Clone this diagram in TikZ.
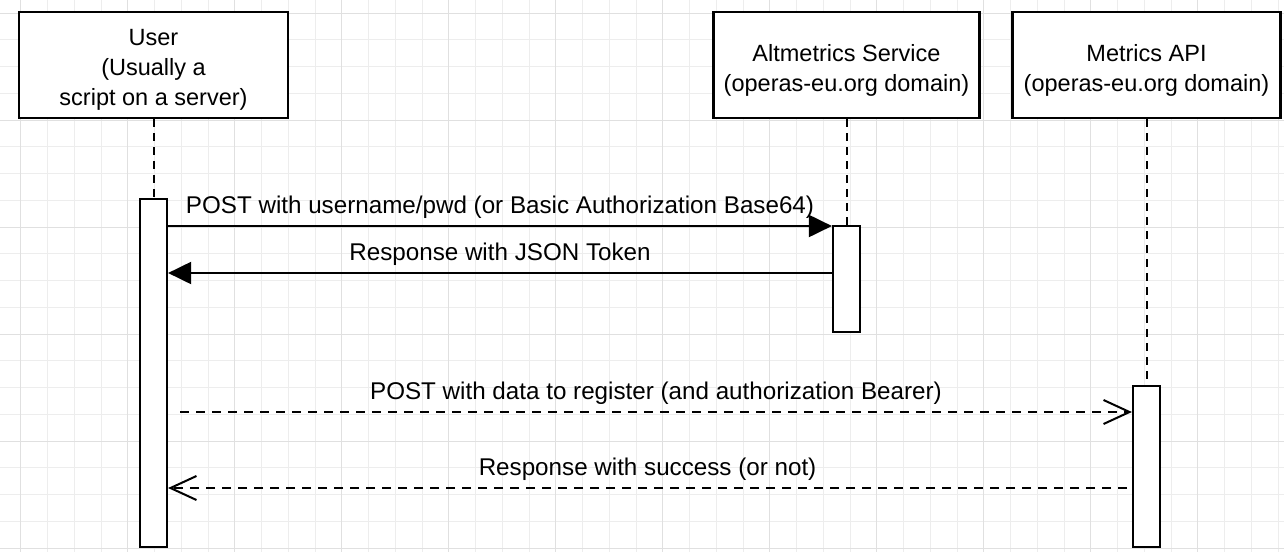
\documentclass[tikz,border=0pt]{standalone}
\usepackage{fontspec}
\setmainfont{Liberation Sans}
\usetikzlibrary{arrows.meta}

\tikzset{
  minorgrid/.style={draw=black!7, line width=0.9pt},
  majorgrid/.style={draw=black!12, line width=1pt},
  actor/.style={draw, line width=2.4pt, fill=white, inner sep=0pt, minimum height=106pt},
  actortext/.style={align=center, inner sep=0pt, font=\fontsize{23.5}{30}\selectfont},
  actbar/.style={draw, line width=2.2pt, fill=white, minimum width=27pt, inner sep=0pt},
  lifeline/.style={line width=2pt, dash pattern=on 8pt off 6pt},
  syncmsg/.style={line width=2pt, -{Triangle[length=23pt, width=22pt]}},
  replymsg/.style={line width=2pt, dash pattern=on 9pt off 7pt,
    -{Straight Barb[length=26pt, width=24pt, line width=2pt]}},
  msglabel/.style={font=\fontsize{24.2}{30}\selectfont, inner sep=0pt},
}

\begin{document}
\begin{tikzpicture}[x=1pt, y=-1pt]
  \useasboundingbox (0,0) rectangle (1284,552);
  \fill[white] (0,0) rectangle (1284,552);

  % background grid
  \foreach \i in {-1,...,47} {
    \pgfmathsetmacro{\gx}{20.7+26.75*\i}
    \draw[minorgrid] (\gx,0) -- (\gx,552);
  }
  \foreach \i in {-1,...,20} {
    \pgfmathsetmacro{\gy}{13+26.75*\i}
    \draw[minorgrid] (0,\gy) -- (1284,\gy);
  }
  \foreach \i in {0,...,11} {
    \pgfmathsetmacro{\gx}{20.7+107*\i}
    \draw[majorgrid] (\gx,0) -- (\gx,552);
  }
  \foreach \i in {0,...,5} {
    \pgfmathsetmacro{\gy}{13+107*\i}
    \draw[majorgrid] (0,\gy) -- (1284,\gy);
  }

  % participants
  \node[actor, minimum width=269pt] (user) at (153.5,65) {};
  \node[actortext] (usertxt) at ([yshift=-5pt]user.center)
    {User\\(Usually a\\script on a server)};
  \node[actor, minimum width=266pt] (alt) at (846.5,65) {};
  \node[actortext] (alttxt) at ([yshift=-5pt]alt.center)
    {Altmetrics Service\\(operas-eu.org domain)};
  \node[actor, minimum width=268pt] (met) at (1146.5,65) {};
  \node[actortext] (mettxt) at ([yshift=-5pt]met.center)
    {Metrics API\\(operas-eu.org domain)};

  % activation bars
  \node[actbar, minimum height=348pt] (uact) at (153.5,373) {};
  \node[actbar, minimum height=106pt] (aact) at (846.5,279) {};
  \node[actbar, minimum height=161pt] (mact) at (1146.5,466.5) {};

  % lifelines
  \draw[lifeline] (user.south) -- (uact.north);
  \draw[lifeline] (alt.south) -- (aact.north);
  \draw[lifeline] (met.south) -- (mact.north);

  % messages
  \coordinate (m1s) at (uact.east |- 0,226);
  \coordinate (m1e) at (aact.west |- 0,226);
  \draw[syncmsg] (m1s) -- (m1e)
    node[msglabel, midway, above=6pt] {POST with username/pwd (or Basic Authorization Base64)};

  \coordinate (m2s) at (aact.west |- 0,273);
  \coordinate (m2e) at (uact.east |- 0,273);
  \draw[syncmsg] (m2s) -- (m2e)
    node[msglabel, midway, above=6pt] {Response with JSON Token};

  \coordinate (m3s) at (180,412);
  \coordinate (m3e) at (mact.west |- 0,412);
  \draw[replymsg] (m3s) -- (m3e)
    node[msglabel, midway, above=6pt] {POST with data to register (and authorization Bearer)};

  \coordinate (m4s) at (1127,488);
  \coordinate (m4e) at (uact.east |- 0,488);
  \draw[replymsg] (m4s) -- (m4e)
    node[msglabel, midway, above=6pt] {Response with success (or not)};
\end{tikzpicture}
\end{document}
